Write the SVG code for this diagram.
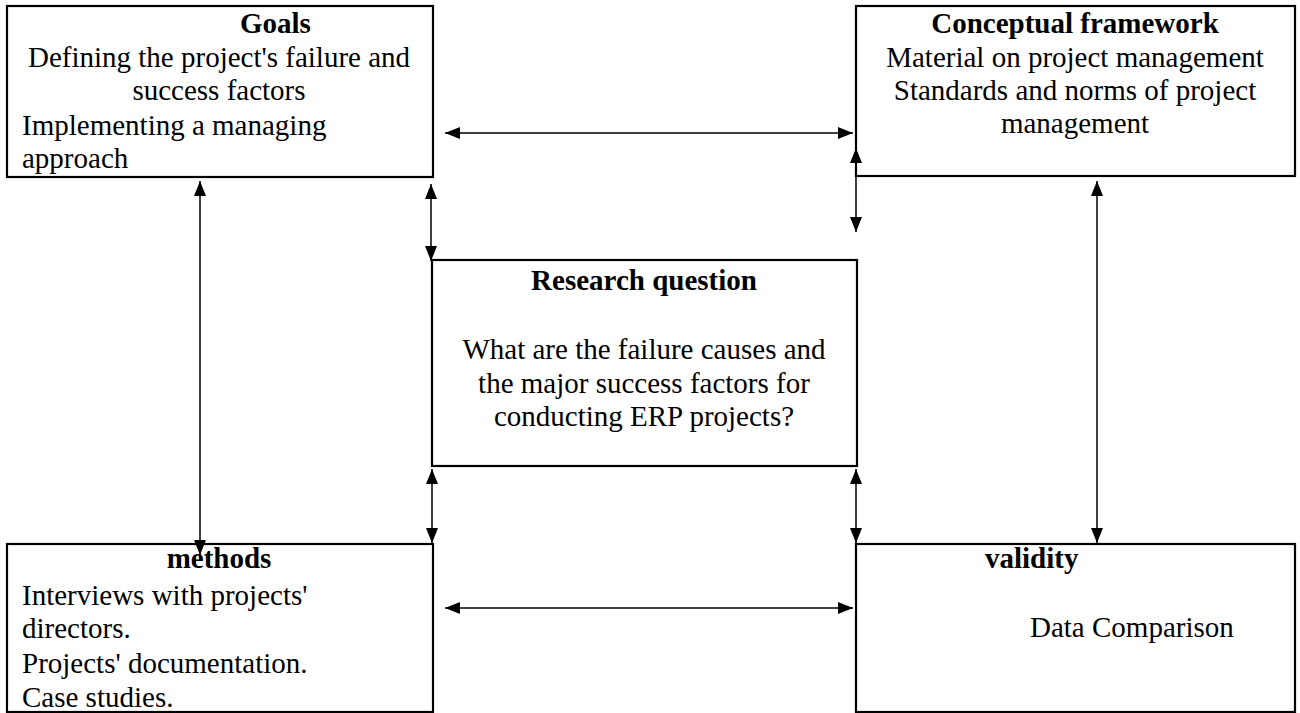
<svg xmlns="http://www.w3.org/2000/svg" width="1300" height="713" viewBox="0 0 1300 713">
<style>
.box{fill:#fff;stroke:#000;stroke-width:2.2}
.t{font-family:"Liberation Serif","Times New Roman",serif;font-size:29px;fill:#000}
.b{font-weight:bold}
.c{text-anchor:middle}
.con{stroke:#000;stroke-width:1.5;fill:none;marker-start:url(#ah);marker-end:url(#ah)}
</style>
<defs>
<marker id="ah" markerUnits="userSpaceOnUse" markerWidth="15" markerHeight="12" refX="15" refY="6" orient="auto-start-reverse" viewBox="0 0 15 12">
<path d="M0,0 L15,6 L0,12 z" fill="#000"/>
</marker>
</defs>
<rect width="1300" height="713" fill="#fff"/>
<g id="goals">
<rect class="box" x="7" y="6" width="426" height="171"/>
<text class="t b" x="240" y="33">Goals</text>
<text class="t c" x="219" y="67">Defining the project's failure and</text>
<text class="t c" x="219" y="100">success factors</text>
<text class="t" x="22" y="135">Implementing a managing</text>
<text class="t" x="22" y="168">approach</text>
</g>
<g id="framework">
<rect class="box" x="856" y="6" width="439" height="170"/>
<text class="t b c" x="1075" y="33">Conceptual framework</text>
<text class="t c" x="1075" y="67">Material on project management</text>
<text class="t c" x="1075" y="100">Standards and norms of project</text>
<text class="t c" x="1075" y="133">management</text>
</g>
<g id="research">
<rect class="box" x="432" y="260" width="425" height="206"/>
<text class="t b c" x="644" y="290">Research question</text>
<text class="t c" x="644" y="359">What are the failure causes and</text>
<text class="t c" x="644" y="393">the major success factors for</text>
<text class="t c" x="644" y="426">conducting ERP projects?</text>
</g>
<g id="methods">
<rect class="box" x="7" y="544" width="426" height="168"/>
<text class="t b c" x="219" y="568">methods</text>
<text class="t" x="22" y="605">Interviews with projects'</text>
<text class="t" x="22" y="638">directors.</text>
<text class="t" x="22" y="673">Projects' documentation.</text>
<text class="t" x="22" y="707">Case studies.</text>
</g>
<g id="validity">
<rect class="box" x="856" y="544" width="439" height="168"/>
<text class="t b" x="985" y="568">validity</text>
<text class="t" x="1030" y="637">Data Comparison</text>
</g>
<g id="connectors">
<line class="con" x1="445" y1="133" x2="853" y2="133"/>
<line class="con" x1="445" y1="608" x2="853" y2="608"/>
<line class="con" x1="200" y1="181" x2="200" y2="555"/>
<line class="con" x1="1097" y1="181" x2="1097" y2="543"/>
<line class="con" x1="431" y1="184" x2="431" y2="261"/>
<line class="con" x1="856" y1="148" x2="856" y2="232"/>
<line class="con" x1="432" y1="469" x2="432" y2="543"/>
<line class="con" x1="856" y1="469" x2="856" y2="543"/>
</g>
</svg>
